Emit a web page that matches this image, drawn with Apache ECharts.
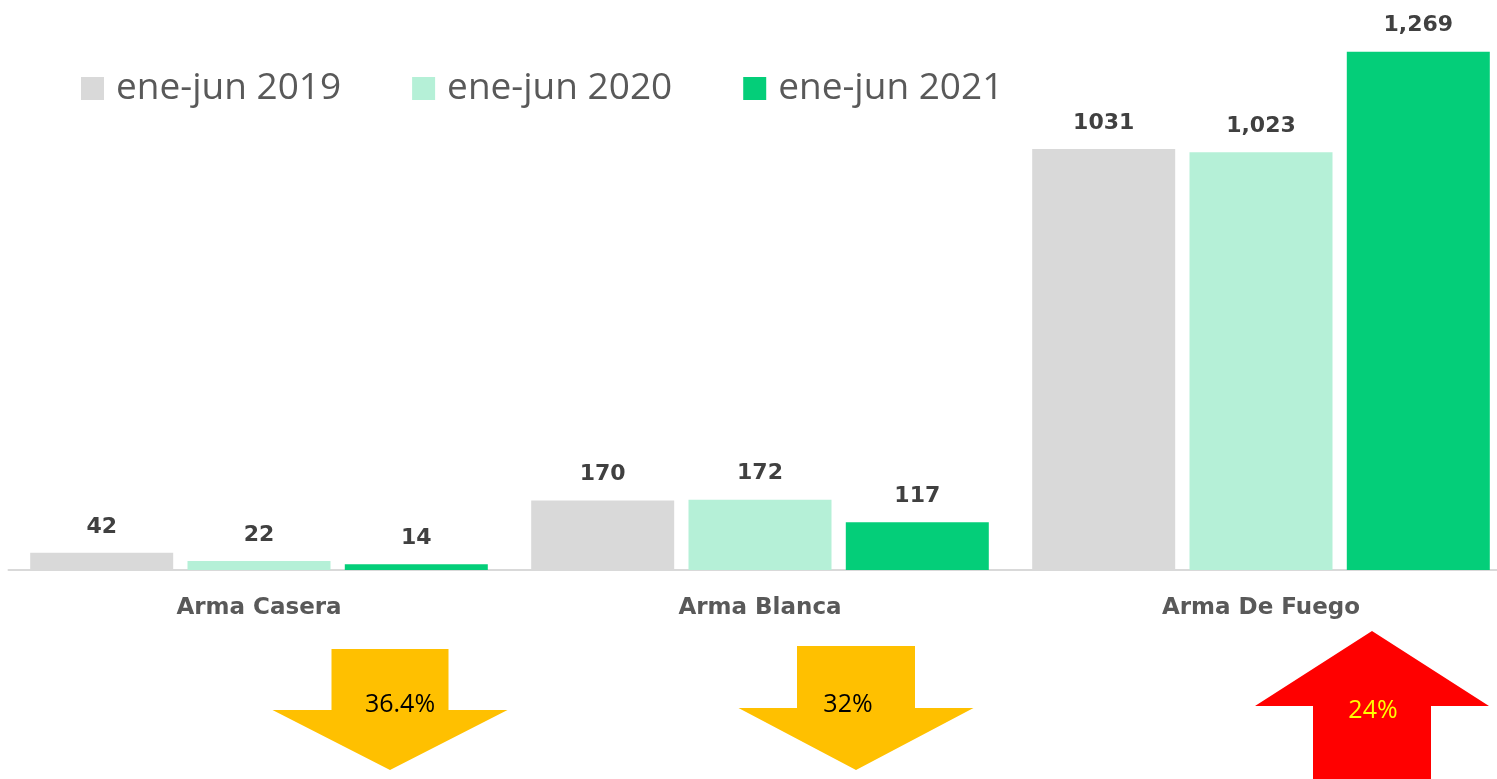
<!DOCTYPE html>
<html>
<head>
<meta charset="utf-8">
<title>Armas ene-jun</title>
<script src="https://cdn.jsdelivr.net/npm/echarts@6/dist/echarts.min.js"></script>
<style>
    html, body { margin: 0; padding: 0; background: #fff; }
    #main { width: 1497px; height: 779px; }
</style>
</head>
<body>
<div id="main"></div>
<script>
// datos
const categories = ['Arma Casera', 'Arma Blanca', 'Arma De Fuego']
const seriesNames = ['ene-jun 2019', 'ene-jun 2020', 'ene-jun 2021']
const values2019 = [42, 170, 1031]
const values2020 = [22, 172, 1023]
const values2021 = [14, 117, 1269]
const variation = ['36.4%', '32%', '24%']
const variationUp = [false, false, true]

const colors = ['#D9D9D9', '#B5F0D7', '#04CE79']
// la serie 2019 va sin separador de miles en el original
const useComma = [false, true, true]

// flechas (posiciones en pantalla)
const arrowLayout = [
    { cx: 390, shaftW: 117, headW: 235, top: 649, headY: 710, tip: 770, textY: 705, color: '#FFC000', textColor: '#000000', textX: 400 },
    { cx: 856, shaftW: 118, headW: 235, top: 646, headY: 708, tip: 770, textY: 705, color: '#FFC000', textColor: '#000000', textX: 848 },
    { cx: 1372, shaftW: 118, headW: 234, top: 631, headY: 706, tip: 790, textY: 711, color: '#FF0000', textColor: '#FFFF00', textX: 1373 },
]

const arrowPoints = function(a, up) {
    const sh = a.shaftW / 2
    const hh = a.headW / 2
    if (up) {
        return [
            [a.cx, a.top], [a.cx + hh, a.headY], [a.cx + sh, a.headY], [a.cx + sh, a.tip],
            [a.cx - sh, a.tip], [a.cx - sh, a.headY], [a.cx - hh, a.headY],
        ]
    }
    return [
        [a.cx - sh, a.top], [a.cx + sh, a.top], [a.cx + sh, a.headY], [a.cx + hh, a.headY],
        [a.cx, a.tip], [a.cx - hh, a.headY], [a.cx - sh, a.headY],
    ]
}

const arrowGraphics = function() {
    const list = []
    arrowLayout.forEach((a, i) => {
        list.push({
            type: 'polygon',
            shape: { points: arrowPoints(a, variationUp[i]) },
            style: { fill: a.color },
            z: 10,
        })
        list.push({
            type: 'text',
            x: a.textX,
            y: a.textY,
            style: {
                text: variation[i],
                fill: a.textColor,
                font: '25px "Open Sans"',
                textAlign: 'center',
                textVerticalAlign: 'middle',
            },
            z: 11,
        })
    })
    return list
}

const makeSeries = function(name, data, i) {
    return {
        name: name,
        type: 'bar',
        data: data,
        barWidth: 143,
        barGap: '10%',
        itemStyle: { color: colors[i] },
        label: {
            show: true,
            position: 'top',
            distance: 15,
            color: '#404040',
            fontFamily: 'DejaVu Sans',
            fontWeight: 'bold',
            fontSize: 22,
            formatter: function(p) {
                return useComma[i] ? p.value.toLocaleString('en-US') : String(p.value)
            },
        },
    }
}

const option = {
    animation: false,
    color: colors,
    legend: {
        left: 76,
        top: 65,
        itemWidth: 23,
        itemHeight: 23,
        itemGap: 71,
        icon: 'rect',
        textStyle: {
            fontFamily: 'Open Sans',
            fontSize: 37,
            color: '#595959',
            padding: [0, 0, 0, 7],
        },
        data: seriesNames,
    },
    grid: {
        left: 8.5,
        width: 1503,
        top: 39,
        bottom: 209,
        containLabel: false,
        outerBoundsMode: 'none',
    },
    xAxis: {
        type: 'category',
        data: categories,
        axisTick: { show: false },
        axisLine: { lineStyle: { color: '#D9D9D9', width: 2 } },
        axisLabel: {
            margin: 27,
            color: '#595959',
            fontFamily: 'DejaVu Sans',
            fontWeight: 'bold',
            fontSize: 23,
        },
    },
    yAxis: {
        type: 'value',
        min: 0,
        max: 1300,
        show: false,
        splitLine: { show: false },
    },
    series: [
        makeSeries(seriesNames[0], values2019, 0),
        makeSeries(seriesNames[1], values2020, 1),
        makeSeries(seriesNames[2], values2021, 2),
    ],
    graphic: arrowGraphics(),
}

const __main = function() {
    const chart = echarts.init(document.getElementById('main'))
    chart.setOption(option)
}

__main()
</script>
</body>
</html>
